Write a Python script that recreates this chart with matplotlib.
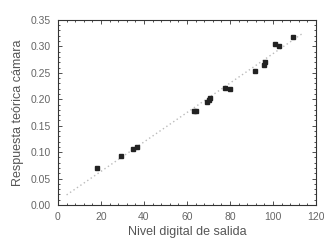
import matplotlib
matplotlib.use('Agg')
import matplotlib.pyplot as plt
from matplotlib.ticker import MultipleLocator, AutoMinorLocator

plt.rcParams['font.family'] = ['Liberation Sans', 'DejaVu Sans']

# measured points
nivel = [18, 29.3, 35, 36.7, 63.3, 64.2, 69.3, 70.2, 70.8, 77.7, 80, 91.6, 95.8, 96.3, 100.9, 102.8, 109.3]
respuesta = [0.070, 0.093, 0.106, 0.110, 0.178, 0.177, 0.195, 0.199, 0.202, 0.221, 0.219, 0.253, 0.265, 0.270, 0.305, 0.301, 0.318]

# fitted line endpoints
fit_x = [4, 114]
fit_y = [0.019, 0.325]

fig = plt.figure(figsize=(3.24, 2.4), dpi=100)
ax = fig.add_axes([0.179, 0.146, 0.796, 0.771])

ax.plot(fit_x, fit_y, color='#bbbbbb', linestyle=(0, (1, 2)), linewidth=1.0)
ax.plot(nivel, respuesta, 's', color='#222222', markersize=3.2, linestyle='none')

ax.set_xlim(0, 120)
ax.set_ylim(0, 0.35)
ax.xaxis.set_major_locator(MultipleLocator(20))
ax.yaxis.set_major_locator(MultipleLocator(0.05))
ax.xaxis.set_minor_locator(AutoMinorLocator(5))
ax.yaxis.set_minor_locator(AutoMinorLocator(5))
ax.yaxis.set_major_formatter(plt.FuncFormatter(lambda v, p: f'{v:.2f}'))
ax.tick_params(which='both', direction='in', top=True, right=True, colors='#333333',
               labelcolor='#666666', labelsize=7.5, width=0.6)
ax.tick_params(which='major', length=3, pad=5)
ax.tick_params(which='minor', length=1.5)
for s in ax.spines.values():
    s.set_linewidth(0.8)
    s.set_color('#333333')

ax.set_xlabel('Nivel digital de salida', fontsize=9, color='#555555', labelpad=3)
ax.set_ylabel('Respuesta teórica cámara', fontsize=9, color='#555555', labelpad=5)

fig.savefig('out.png', dpi=100)
